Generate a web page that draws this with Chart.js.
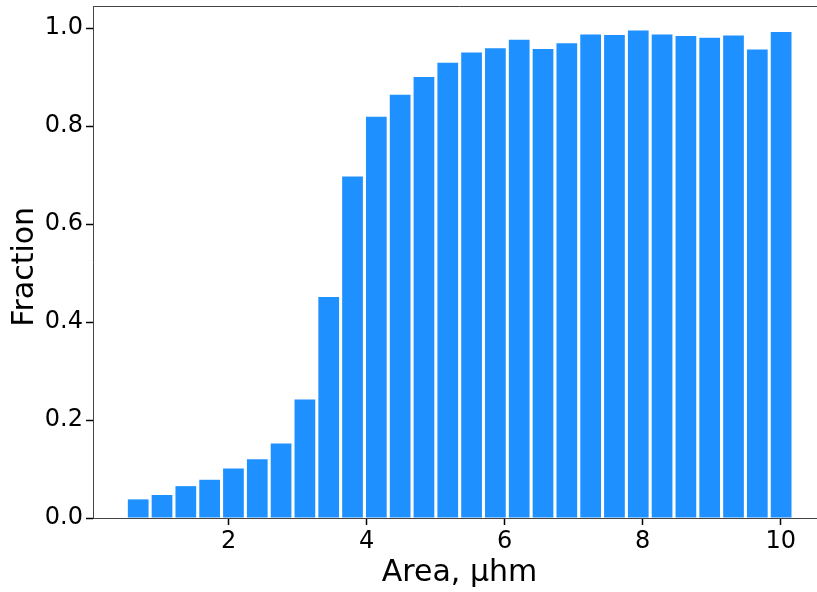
<!DOCTYPE html>
<html>
<head>
<meta charset="utf-8">
<script src="https://cdn.jsdelivr.net/npm/chart.js@4.4.1/dist/chart.umd.min.js"></script>
<style>
  html, body { margin: 0; padding: 0; background: #fff; overflow: hidden; }
  #wrap { width: 826px; height: 592px; }
</style>
</head>
<body>
<div id="wrap"><canvas id="myChart" width="826" height="592"></canvas></div>
<script>
// centros de los bins (area) y fraccion
const areas = [0.690, 1.035, 1.380, 1.725, 2.070, 2.415, 2.760, 3.105, 3.450, 3.795,
  4.140, 4.485, 4.830, 5.175, 5.520, 5.865, 6.210, 6.555, 6.900, 7.245,
  7.590, 7.935, 8.280, 8.625, 8.970, 9.315, 9.660, 10.005];
const fracciones = [0.038, 0.047, 0.065, 0.078, 0.101, 0.120, 0.152, 0.242, 0.451, 0.697,
  0.819, 0.864, 0.900, 0.929, 0.950, 0.959, 0.976, 0.957, 0.969, 0.987,
  0.986, 0.995, 0.987, 0.984, 0.980, 0.985, 0.956, 0.992];
const ticksX = [2, 4, 6, 8, 10];
const ticksY = [0, 0.2, 0.4, 0.6, 0.8, 1.0];

const colorEje = '#444';

// dibuja el borde superior (spine) que Chart.js no trae
const bordeSuperior = {
  id: 'bordeSuperior',
  afterDraw(chart) {
    const { ctx, chartArea } = chart;
    ctx.save();
    ctx.strokeStyle = colorEje;
    ctx.lineWidth = 1;
    ctx.beginPath();
    ctx.moveTo(chartArea.left, chartArea.top + 0.5);
    ctx.lineTo(chartArea.right, chartArea.top + 0.5);
    ctx.stroke();
    ctx.restore();
  }
};

const ctx = document.getElementById('myChart').getContext('2d');
new Chart(ctx, {
  type: 'bar',
  data: {
    datasets: [{
      data: areas.map((a, i) => ({ x: a, y: fracciones[i] })),
      backgroundColor: '#1E90FF',
      borderWidth: 0,
      barPercentage: 0.87,
      categoryPercentage: 1
    }]
  },
  options: {
    responsive: false,
    animation: false,
    devicePixelRatio: 1,
    layout: { padding: { top: 6, right: 0, left: 0, bottom: 0 } },
    plugins: { legend: { display: false }, tooltip: { enabled: false } },
    scales: {
      x: {
        type: 'linear',
        offset: false,
        min: 0.035,
        max: 10.655,
        afterBuildTicks: scale => { scale.ticks = ticksX.map(v => ({ value: v })); },
        afterFit: scale => {
          scale.height = 74;
          scale.paddingLeft = 0; scale.paddingRight = 0;
        },
        grid: { offset: false, drawOnChartArea: false, drawTicks: true, tickLength: 7, tickColor: '#000', tickWidth: 1.5 },
        border: { color: colorEje, width: 1 },
        ticks: {
          color: '#000',
          padding: 2,
          maxRotation: 0,
          font: { family: 'DejaVu Sans', size: 24 },
          callback: v => String(v)
        },
        title: {
          display: true,
          text: 'Area, μhm',
          color: '#000',
          padding: { top: 0, bottom: 1 },
          font: { family: 'DejaVu Sans', size: 30 }
        }
      },
      y: {
        min: 0,
        max: 1.045,
        afterBuildTicks: scale => { scale.ticks = ticksY.map(v => ({ value: v })); },
        afterFit: scale => {
          scale.width = 93;
          scale.paddingTop = 0; scale.paddingBottom = 0;
        },
        grid: { drawOnChartArea: false, drawTicks: true, tickLength: 7, tickColor: '#000', tickWidth: 1.5 },
        border: { color: colorEje, width: 1 },
        ticks: {
          color: '#000',
          padding: 3,
          font: { family: 'DejaVu Sans', size: 24 },
          callback: v => v.toFixed(1)
        },
        title: {
          display: true,
          text: 'Fraction ',
          color: '#000',
          padding: { top: 7, bottom: 0 },
          font: { family: 'DejaVu Sans', size: 30 }
        }
      }
    }
  },
  plugins: [bordeSuperior]
});
</script>
</body>
</html>
